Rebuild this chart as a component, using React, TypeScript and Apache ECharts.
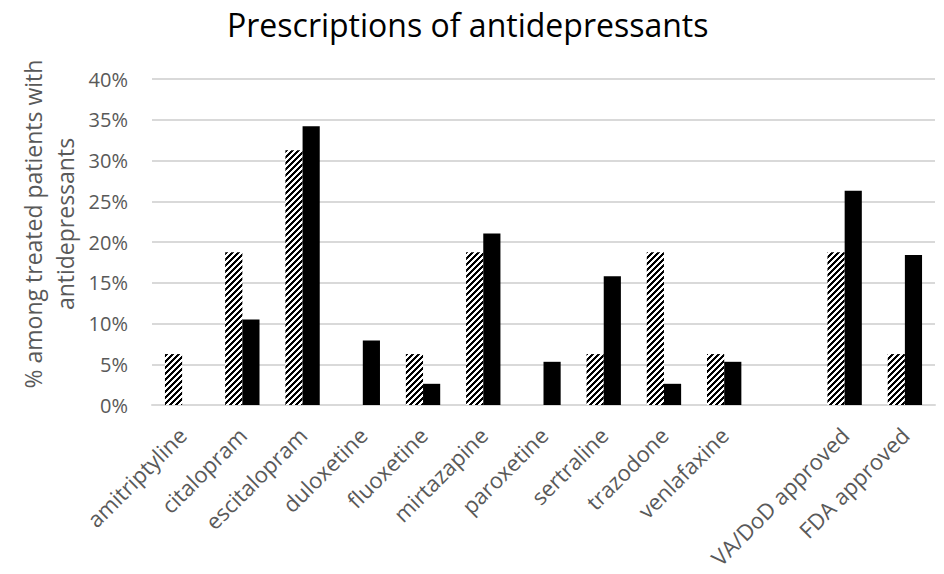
import React, { useEffect, useRef } from "react";
import * as echarts from "echarts";

const categories = [
  "amitriptyline",
  "citalopram",
  "escitalopram",
  "duloxetine",
  "fluoxetine",
  "mirtazapine",
  "paroxetine",
  "sertraline",
  "trazodone",
  "venlafaxine",
  "",
  "VA/DoD approved",
  "FDA approved",
];

const hatchedValues: (number | null)[] = [6.25, 18.75, 31.25, 0, 6.25, 18.75, 0, 6.25, 18.75, 6.25, null, 18.75, 6.25];
const solidValues: (number | null)[] = [0, 10.5, 34.2, 7.9, 2.6, 21.05, 5.3, 15.8, 2.6, 5.3, null, 26.3, 18.4];

const yTicks = { min: 0, max: 40, interval: 5 };

function makeHatch(): HTMLCanvasElement {
  const n = 6;
  const c = document.createElement("canvas");
  c.width = n;
  c.height = n;
  const ctx = c.getContext("2d")!;
  ctx.fillStyle = "#ffffff";
  ctx.fillRect(0, 0, n, n);
  ctx.fillStyle = "#000000";
  for (let x = 0; x < n; x++) {
    for (let y = 0; y < n; y++) {
      const m = (x + y) % n;
      if (m >= 3) ctx.fillRect(x, y, 1, 1);
    }
  }
  return c;
}

export default function App() {
  const ref = useRef<HTMLDivElement>(null);
  useEffect(() => {
    if (!ref.current) return;
    const chart = echarts.init(ref.current, undefined, { renderer: "svg" });
    const hatch = makeHatch();
    const font = "'Open Sans', 'Noto Sans', sans-serif";
    chart.setOption({
      animation: false,
      backgroundColor: "#ffffff",
      textStyle: { fontFamily: font },
      title: {
        text: "Prescriptions of antidepressants",
        left: 222,
        top: 3,
        textStyle: { fontFamily: font, fontSize: 32, fontWeight: "normal", color: "#000000" },
      },
      graphic: [
        {
          type: "text",
          x: 49,
          y: 224,
          rotation: Math.PI / 2,
          style: {
            text: "% among treated patients with\nantidepressants",
            fontFamily: font,
            fontSize: 23,
            lineHeight: 32,
            fill: "#595959",
            align: "center",
            verticalAlign: "middle",
          },
        },
      ],
      grid: { left: 152, right: 9, top: 79, bottom: 169 },
      xAxis: {
        type: "category",
        data: categories,
        axisLine: { show: true, lineStyle: { color: "#d9d9d9", width: 2 } },
        axisTick: { show: false },
        axisLabel: {
          rotate: 45,
          interval: 0,
          margin: 26,
          fontFamily: font,
          fontSize: 22,
          color: "#595959",
        },
      },
      yAxis: {
        type: "value",
        min: yTicks.min,
        max: yTicks.max,
        interval: yTicks.interval,
        axisLine: { show: false },
        axisTick: { show: false },
        splitLine: { lineStyle: { color: "#d9d9d9", width: 2 } },
        axisLabel: {
          formatter: "{value}%",
          margin: 24,
          fontFamily: font,
          fontSize: 20,
          color: "#595959",
        },
      },
      series: [
        {
          type: "bar",
          name: "hatched",
          data: hatchedValues,
          barGap: "0%",
          barCategoryGap: "43%",
          itemStyle: { color: { image: hatch, repeat: "repeat" } },
        },
        {
          type: "bar",
          name: "solid",
          data: solidValues,
          barGap: "0%",
          barCategoryGap: "43%",
          itemStyle: { color: "#000000" },
        },
      ],
    });
    return () => chart.dispose();
  }, []);
  return (
    <div
      ref={ref}
      style={{ position: "fixed", left: 0, top: 0, width: 944, height: 574 }}
    />
  );
}
